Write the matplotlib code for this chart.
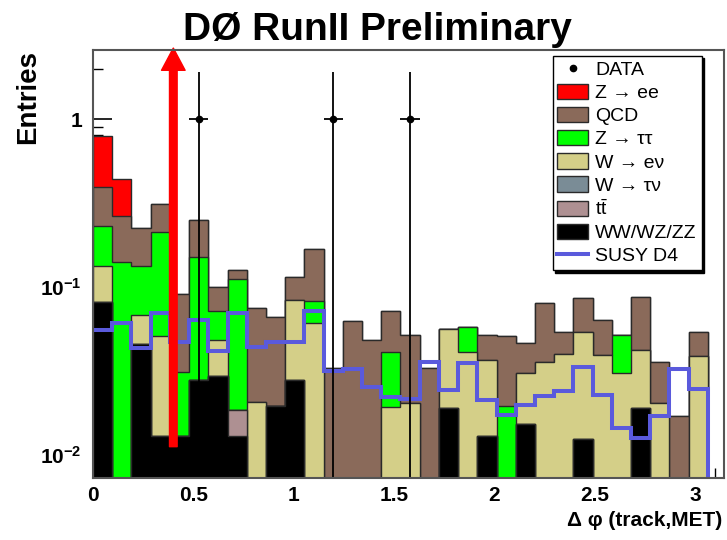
## Stacked background histograms of delta phi(track,MET) with data and SUSY signal.

import numpy as np
import matplotlib
matplotlib.use('Agg')
import matplotlib.pyplot as plt
from matplotlib.patches import Patch
from matplotlib.lines import Line2D
from matplotlib.ticker import FixedLocator, NullFormatter, MultipleLocator

plt.rcParams['font.family'] = ['Liberation Sans', 'DejaVu Sans']
plt.rcParams['mathtext.fontset'] = 'custom'
plt.rcParams['mathtext.rm'] = 'Liberation Sans'
plt.rcParams['mathtext.bf'] = 'Liberation Sans:bold'
plt.rcParams['mathtext.it'] = 'Liberation Sans:italic'

## Binning (33 bins)
edges = np.linspace(0.0, 3.16, 34)

## Background contributions per bin
wwwzzz = [0.081, 0, 0.046, 0.013, 0.013, 0.028, 0.0295, 0.0129, 0, 0.0196, 0.028,
          0, 0, 0, 0, 0, 0, 0, 0.019, 0, 0.013, 0, 0.0152, 0, 0, 0.0125, 0, 0,
          0.019, 0, 0, 0, 0]
ttbar = [0, 0, 0, 0, 0, 0, 0, 0.0055, 0, 0, 0, 0, 0, 0, 0, 0, 0, 0, 0, 0, 0, 0,
         0, 0, 0, 0, 0, 0, 0, 0, 0, 0, 0]
wtaunu = [0]*33
wenu = [0.053, 0, 0.022, 0.038, 0, 0, 0.019, 0, 0.0208, 0, 0.056, 0.061, 0, 0, 0,
        0.0194, 0.0205, 0, 0.037, 0.041, 0.024, 0, 0.0157, 0.036, 0.040, 0.0417,
        0.0394, 0.0306, 0.0232, 0.0203, 0, 0.039, 0]
ztautau = [0.098, 0.140, 0.066, 0.161, 0.018, 0.1235, 0.023, 0.0927, 0, 0, 0,
           0.021, 0, 0, 0, 0.0218, 0, 0, 0, 0.017, 0, 0.0196, 0, 0, 0, 0, 0,
           0.0212, 0, 0, 0, 0, 0]
qcd = [0.163, 0.126, 0.090, 0.100, 0.060, 0.099, 0.029, 0.0152, 0.054, 0.047,
       0.031, 0.086, 0.033, 0.063, 0.0484, 0.031, 0.031, 0.0328, 0, 0, 0.015,
       0.0315, 0.0153, 0.0447, 0.014, 0.0315, 0.0242, 0, 0.0447, 0.0156, 0.017,
       0.0153, 0]
zee = [0.397, 0.172] + [0]*31

## SUSY D4 signal
susy = [0.0555, 0.0613, 0.0432, 0.0703, 0.0473, 0.0636, 0.0416, 0.0703, 0.0441,
        0.0473, 0.0473, 0.0722, 0.0316, 0.0324, 0.0255, 0.0222, 0.0215, 0.0359,
        0.0244, 0.0354, 0.0211, 0.0173, 0.0199, 0.0225, 0.0240, 0.0333, 0.0228,
        0.0144, 0.0126, 0.0171, 0.0324, 0.0246, 0]

## Data
data_x = [0.527, 1.197, 1.580]
data_y = [1.0, 1.0, 1.0]
data_err_up = [0.9, 0.9, 0.9]
data_err_dn = [0.999, 0.999, 0.999]

## Cut arrow
cut_x = 0.40

layers = [('WW/WZ/ZZ', wwwzzz, '#000000'),
          (r'$\mathrm{t\bar{t}}$', ttbar, '#ae9092'),
          ('W → τν', wtaunu, '#7a8c96'),
          ('W → eν', wenu, '#d4cf88'),
          ('Z → ττ', ztautau, '#00ff00'),
          ('QCD', qcd, '#8a6a5a'),
          ('Z → ee', zee, '#ff0000')]

fig = plt.figure(figsize=(7.27, 5.40), dpi=100)
ax = fig.add_axes([0.128, 0.115, 0.868, 0.792])

floor = 1e-5
cum = np.zeros(len(edges) - 1)
cums = []
for name, vals, col in layers:
  cum = cum + np.array(vals, dtype=float)
  cums.append(cum.copy())

## draw the cumulative histograms, topmost first
for i in range(len(layers) - 1, -1, -1):
  name, vals, col = layers[i]
  c = np.where(cums[i] > 0, cums[i], floor)
  ax.stairs(c, edges, baseline=floor, fill=True, facecolor=col,
            edgecolor='#2a2a2a', linewidth=1.0, zorder=2 + (len(layers) - i))

s = np.where(np.array(susy) > 0, susy, floor)
ax.stairs(s, edges, baseline=None, color='#5a5adc', linewidth=2.9, zorder=20)

bw = edges[1] - edges[0]
ax.errorbar(data_x, data_y, yerr=[data_err_dn, data_err_up], xerr=bw/2,
            fmt='o', color='black', ms=4.5, elinewidth=1.3, capsize=0, zorder=25)

ax.annotate('', xy=(cut_x, 1.005), xycoords=('data', 'axes fraction'),
            xytext=(cut_x, 0.0112), textcoords='data',
            arrowprops=dict(facecolor='#ff0000', edgecolor='#ff0000', width=5.5,
                            headwidth=17, headlength=16, shrink=0),
            annotation_clip=False, zorder=30)

ax.set_yscale('log')
ax.set_ylim(0.0073, 2.57)
ax.set_xlim(0, 3.145)

ax.yaxis.set_major_locator(FixedLocator([0.01, 0.1, 1]))
ax.set_yticklabels([r'$\mathbf{10^{-2}}$', r'$\mathbf{10^{-1}}$', '1'])
minors = [m*10.0**e for e in (-3, -2, -1, 0) for m in range(2, 10)]
ax.yaxis.set_minor_locator(FixedLocator(minors))
ax.yaxis.set_minor_formatter(NullFormatter())
ax.xaxis.set_major_locator(MultipleLocator(0.5))
ax.xaxis.set_minor_locator(MultipleLocator(0.1))
ax.set_xticks([0, 0.5, 1, 1.5, 2, 2.5, 3])
ax.set_xticklabels(['0', '0.5', '1', '1.5', '2', '2.5', '3'])
ax.tick_params(which='both', direction='in', labelsize=15, top=False, right=False)
ax.tick_params(which='major', length=14, width=1.2)
ax.tick_params(which='minor', length=7, width=1.0)
ax.tick_params(axis='x', pad=6)
ax.tick_params(axis='y', pad=8)
for lab in ax.get_xticklabels() + ax.get_yticklabels():
  lab.set_fontweight('bold')
for sp in ax.spines.values():
  sp.set_color('#555555')
  sp.set_linewidth(1.5)
  sp.set_zorder(40)

fig.text(0.519, 0.944, 'DØ RunII Preliminary', ha='center', va='center',
         fontsize=28, fontweight='bold')
fig.text(0.038, 0.907, 'Entries', rotation=90, ha='center', va='top',
         fontsize=20, fontweight='bold')
fig.text(0.994, 0.036, 'Δ φ (track,MET)', ha='right', va='center',
         fontsize=15, fontweight='bold')

handles = [Line2D([], [], marker='o', color='black', linestyle='none', ms=4.5)]
labels = ['DATA']
for name, vals, col in reversed(layers):
  handles.append(Patch(facecolor=col, edgecolor='#2a2a2a', linewidth=1))
  labels.append(name)
handles.append(Line2D([], [], color='#5a5adc', linewidth=2.9))
labels.append('SUSY D4')
leg = fig.legend(handles, labels, loc='upper left', bbox_to_anchor=(0.760, 0.897),
                 fontsize=14, frameon=True, fancybox=False, shadow={'color': 'black', 'alpha': 1},
                 edgecolor='black', handlelength=1.6, handleheight=0.85,
                 labelspacing=0.24, borderpad=0.25, handletextpad=0.35,
                 borderaxespad=0)
leg.get_frame().set_linewidth(1.0)
leg.set_zorder(50)

plt.savefig('out.png', dpi=100)
